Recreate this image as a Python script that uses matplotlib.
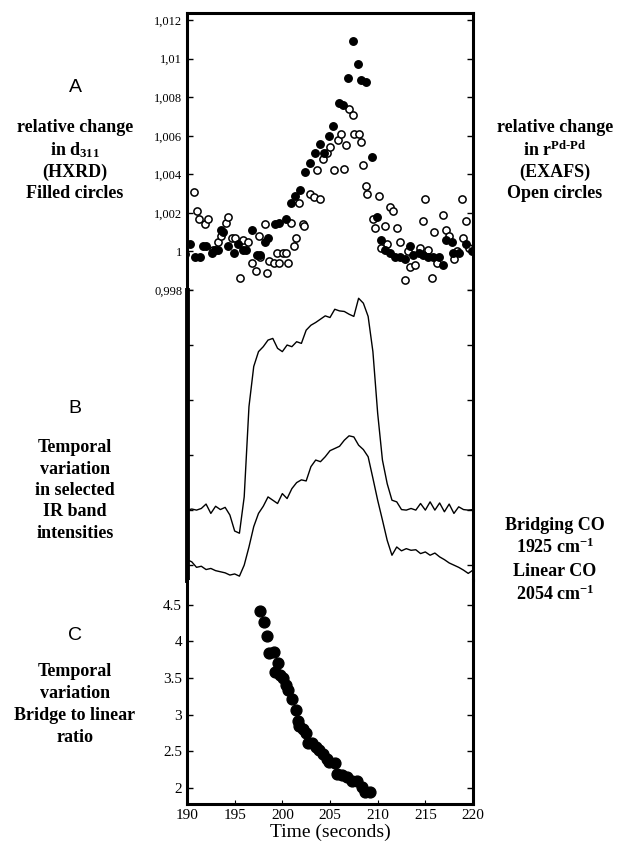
import numpy as np
import matplotlib.pyplot as plt

plt.rcParams['font.family'] = ['Liberation Serif', 'DejaVu Serif']
plt.rcParams['mathtext.fontset'] = 'custom'
plt.rcParams['mathtext.rm'] = 'Liberation Serif'
plt.rcParams['mathtext.bf'] = 'Liberation Serif:bold'

# panel A: relative change, HXRD (filled) and EXAFS (open)
hxrd_t = [189.8, 190.3, 190.8, 191.4, 191.7, 192.0, 192.6, 192.9, 193.3, 193.6, 193.8,
          194.3, 194.9, 195.4, 195.9, 196.2, 196.8, 197.3, 197.7, 198.2, 198.5, 199.2,
          199.6, 200.4, 200.9, 201.3, 201.9, 202.4, 202.9, 203.4, 203.9, 204.4, 204.9,
          205.3, 205.9, 206.4, 206.9, 207.4, 207.9, 208.3, 208.8, 209.4, 209.9, 210.4,
          210.8, 211.3, 211.8, 212.3, 212.9, 213.4, 213.7, 214.3, 214.8, 215.3, 215.8,
          216.4, 216.9, 217.2, 217.8, 217.9, 218.5, 219.3, 219.9]
hxrd_v = [0.99988, 1.0004, 0.9997, 0.9997, 1.0003, 1.0003, 0.9999, 1.0001, 1.0001, 1.0011, 1.0010,
          1.0003, 0.9999, 1.0004, 1.0001, 1.0001, 1.0011, 0.9998, 0.9998, 1.0005, 1.0007, 1.0014,
          1.0015, 1.0017, 1.0025, 1.0029, 1.0032, 1.0041, 1.0046, 1.0051, 1.0056, 1.0051, 1.0060,
          1.0065, 1.0077, 1.0076, 1.0090, 1.0109, 1.0097, 1.0089, 1.0088, 1.0049, 1.0018, 1.0006,
          1.0001, 0.9999, 0.9997, 0.9997, 0.9996, 1.0003, 0.9998, 0.9999, 0.9998, 0.9997, 0.9997,
          0.9997, 0.9993, 1.0006, 1.0005, 0.9999, 0.9999, 1.0004, 1.0000]

exafs_t = [190.7, 191.0, 191.3, 191.9, 192.2, 192.7, 193.2, 193.6, 194.1, 194.3, 194.7,
           195.0, 195.6, 195.9, 196.4, 196.8, 197.2, 197.5, 197.7, 198.2, 198.4, 198.6,
           199.1, 199.4, 199.7, 200.1, 200.4, 200.6, 200.9, 201.2, 201.4, 201.8, 202.2,
           202.3, 202.9, 203.3, 203.6, 203.9, 204.3, 204.7, 205.0, 205.4, 205.8, 206.2,
           206.5, 206.7, 207.0, 207.4, 207.5, 208.0, 208.3, 208.5, 208.8, 208.9, 209.5,
           209.7, 210.1, 210.4, 210.8, 211.0, 211.3, 211.6, 212.0, 212.3, 212.9, 213.2,
           213.4, 213.9, 214.4, 214.8, 215.0, 215.3, 215.7, 215.9, 216.2, 216.9, 217.2,
           217.5, 218.0, 218.3, 218.8, 218.9, 219.3, 219.6]
exafs_v = [1.0031, 1.0021, 1.0017, 1.0014, 1.0017, 1.0001, 1.0005, 1.0008, 1.0015, 1.0018, 1.0007,
           1.0007, 0.9986, 1.0006, 1.0005, 0.9994, 0.9990, 1.0008, 0.9997, 1.0014, 0.9989, 0.9995,
           0.9994, 0.9999, 0.9994, 0.9999, 0.9999, 0.9994, 1.0015, 1.0003, 1.0007, 1.0025, 1.0014,
           1.0013, 1.0030, 1.0028, 1.0042, 1.0027, 1.0048, 1.0051, 1.0054, 1.0042, 1.0058, 1.0061,
           1.0043, 1.0055, 1.0074, 1.0071, 1.0061, 1.0061, 1.0057, 1.0045, 1.0034, 1.0030, 1.0017,
           1.0012, 1.0029, 1.0002, 1.0013, 1.0004, 1.0023, 1.0021, 1.0012, 1.0005, 0.9985, 1.0000,
           0.9992, 0.9993, 1.0002, 1.0016, 1.0027, 1.0001, 0.9986, 1.0010, 0.9994, 1.0019, 1.0011,
           1.0008, 0.9996, 1.0000, 1.0027, 1.0007, 1.0016, 1.0002]
a_ticks = [0.998, 1.0, 1.002, 1.004, 1.006, 1.008, 1.01, 1.012]
a_labels = ['0,998', '1', '1,002', '1,004', '1,006', '1,008', '1,01', '1,012']

# panel B: IR band intensities (arbitrary units)
ir_t = [190.0, 190.5, 191.0, 191.5, 192.0, 192.5, 193.0, 193.5, 194.0, 194.5, 195.0,
        195.5, 196.0, 196.5, 197.0, 197.5, 198.0, 198.5, 199.0, 199.5, 200.0, 200.5,
        201.0, 201.5, 202.0, 202.5, 203.0, 203.5, 204.0, 204.5, 205.0, 205.5, 206.0,
        206.5, 207.0, 207.5, 208.0, 208.5, 209.0, 209.5, 210.0, 210.5, 211.0, 211.5,
        212.0, 212.5, 213.0, 213.5, 214.0, 214.5, 215.0, 215.5, 216.0, 216.5, 217.0,
        217.5, 218.0, 218.5, 219.0, 219.5, 220.0]
bridging = [1.00, 1.02, 1.00, 1.03, 1.11, 0.94, 1.07, 1.01, 1.05, 0.91, 0.62,
            0.58, 1.24, 2.88, 3.61, 3.88, 3.97, 4.09, 4.12, 3.94, 3.88, 4.00,
            3.97, 4.06, 4.03, 4.27, 4.36, 4.41, 4.47, 4.53, 4.50, 4.65, 4.62,
            4.61, 4.56, 4.52, 4.85, 4.76, 4.52, 3.88, 2.76, 1.91, 1.48, 1.18,
            1.15, 1.01, 1.00, 1.03, 1.00, 1.12, 1.00, 1.15, 1.00, 1.13, 0.97,
            1.11, 0.94, 1.06, 1.01, 1.00, 1.01]
linear = [0.10, 0.06, -0.04, -0.02, -0.08, -0.06, -0.10, -0.12, -0.14, -0.18, -0.16,
          -0.20, 0.00, 0.33, 0.70, 0.94, 1.07, 1.24, 1.18, 1.12, 1.30, 1.21,
          1.39, 1.50, 1.55, 1.53, 1.79, 1.91, 1.88, 1.97, 2.08, 2.12, 2.16,
          2.27, 2.35, 2.33, 2.18, 2.10, 1.97, 1.58, 1.18, 0.82, 0.45, 0.18,
          0.33, 0.26, 0.30, 0.27, 0.28, 0.21, 0.24, 0.18, 0.22, 0.15, 0.10,
          0.04, 0.00, -0.04, -0.09, -0.15, -0.09]

# panel C: bridge to linear ratio
ratio_t = [197.66, 198.08, 198.43, 198.64, 199.13, 199.58, 199.23, 199.76, 200.10, 200.38,
           200.63, 200.98, 201.43, 201.68, 201.78, 202.13, 202.48, 202.66, 203.08, 203.53,
           203.88, 204.23, 204.65, 204.93, 205.52, 205.70, 206.22, 206.75, 207.27, 207.80,
           208.32, 208.67, 209.20]
ratio = [4.42, 4.27, 4.07, 3.84, 3.86, 3.70, 3.59, 3.54, 3.50, 3.41,
         3.34, 3.22, 3.07, 2.91, 2.85, 2.80, 2.75, 2.61, 2.61, 2.56,
         2.52, 2.46, 2.39, 2.35, 2.34, 2.19, 2.18, 2.15, 2.09, 2.10,
         2.01, 1.95, 1.95]

fig = plt.figure(figsize=(6.18, 8.42), dpi=100)
left, width = 187 / 618, 286 / 618
axA = fig.add_axes([left, 1 - 290 / 842, width, 277 / 842])
axB = fig.add_axes([left, 1 - 580 / 842, width, 290 / 842])
axC = fig.add_axes([left, 1 - 804 / 842, width, 224 / 842])

axA.plot(exafs_t, exafs_v, 'o', ms=5.2, mfc='white', mec='black', mew=1.1)
axA.plot(hxrd_t, hxrd_v, 'o', ms=5.4, color='black')
axA.set_ylim(0.998, 1.01237)
axA.set_yticks(a_ticks)
axA.set_yticklabels(a_labels, fontsize=9)

axB.plot(ir_t, bridging, color='black', lw=1.0)
axB.plot(ir_t, linear, color='black', lw=1.0)
axB.set_ylim(-0.27, 5.0)
axB.set_yticks([0, 1, 2, 3, 4, 5])
axB.set_yticklabels([])

axC.plot(ratio_t, ratio, 'o', ms=7.8, color='black')
axC.set_ylim(1.78, 4.84)
axC.set_yticks([2, 2.5, 3, 3.5, 4, 4.5])
axC.set_yticklabels(['2', '2.5', '3', '3.5', '4', '4.5'], fontsize=11)
axC.set_xticks([190, 195, 200, 205, 210, 215, 220])
axC.tick_params(axis='x', labelsize=11, direction='in', length=3)
axC.set_xlabel('Time (seconds)', fontsize=14, labelpad=1)

for ax in (axA, axB, axC):
    ax.set_xlim(190, 220)
    ax.tick_params(axis='y', direction='in', left=True, right=True, length=4, width=1)
    for s in ax.spines.values():
        s.set_linewidth(2.2)
    if ax is not axC:
        ax.set_xticks([])
        ax.spines['bottom'].set_visible(False)
    if ax is not axA:
        ax.spines['top'].set_visible(False)
axB.spines['left'].set_linewidth(3.5)

def fx(px):
    return px / 618

def fy(py):
    return 1 - py / 842

tkw = dict(ha='center', va='center', fontsize=13, fontweight='bold')
sans = dict(ha='center', va='center', fontsize=14, family='Liberation Sans')

fig.text(fx(75), fy(88), 'A', **sans)
for y, s in zip([128, 150, 172, 193],
                ['relative change', r'in d$\mathregular{_{311}}$', '(HXRD)', 'Filled circles']):
    fig.text(fx(75), fy(y), s, **tkw)
fig.text(fx(75), fy(408), 'B', **sans)
for y, s in zip([447, 469, 490, 511, 533],
                ['Temporal', 'variation', 'in selected', 'IR band', 'intensities']):
    fig.text(fx(75), fy(y), s, **tkw)
fig.text(fx(75), fy(636), 'C', **sans)
for y, s in zip([672, 694, 716, 737],
                ['Temporal', 'variation', 'Bridge to linear', 'ratio']):
    fig.text(fx(75), fy(y), s, **tkw)

for y, s in zip([128, 150, 172, 193],
                ['relative change', r'in r$\mathregular{^{Pd\text{-}Pd}}$', '(EXAFS)', 'Open circles']):
    fig.text(fx(555), fy(y), s, **tkw)
for y, s in zip([525, 547, 572, 594],
                ['Bridging CO', r'1925 cm$\mathregular{^{-1}}$', 'Linear CO', r'2054 cm$\mathregular{^{-1}}$']):
    fig.text(fx(555), fy(y), s, **tkw)

fig.savefig('out.png', dpi=100)
